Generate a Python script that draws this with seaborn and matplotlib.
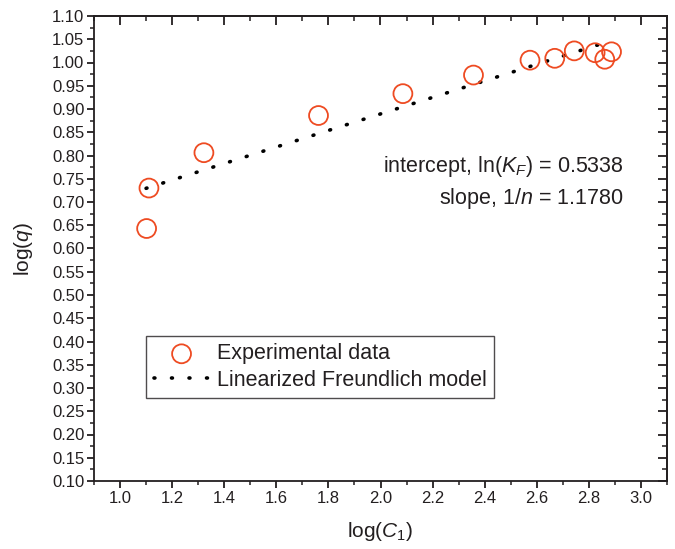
import numpy as np
import pandas as pd
import matplotlib
matplotlib.use("Agg")
import matplotlib.pyplot as plt
from matplotlib.ticker import MultipleLocator, FormatStrFormatter
import seaborn as sns

# ---- data ----
log_c = [1.102, 1.111, 1.322, 1.762, 2.086, 2.357, 2.574, 2.669, 2.744, 2.824, 2.861, 2.887]
log_q = [0.643, 0.730, 0.806, 0.886, 0.933, 0.973, 1.005, 1.009, 1.025, 1.021, 1.007, 1.023]
model_x = [1.100, 2.860]
model_y = [0.7294, 1.0423]
annot_lines = [r"intercept, ln($\mathit{K}_{\mathit{F}}$) = 0.5338",
               r"slope, 1/$\mathit{n}$ = 1.1780"]
label_points = "Experimental data"
label_model = "Linearized Freundlich model"

sns.set_style("ticks")
plt.rcParams["font.family"] = ["Liberation Sans", "DejaVu Sans"]
plt.rcParams["mathtext.fontset"] = "custom"
plt.rcParams["mathtext.rm"] = "Liberation Sans"
plt.rcParams["mathtext.it"] = "Liberation Sans:italic"

ink = "#231F20"
orange = "#EE4B22"

fig = plt.figure(figsize=(6.75, 5.49), dpi=100)
ax = fig.add_axes([94/675, 1-481/549, 573/675, 465/549])

df_pts = pd.DataFrame({"x": log_c, "y": log_q})
df_line = pd.DataFrame({"x": model_x, "y": model_y})

sns.scatterplot(data=df_pts, x="x", y="y", ax=ax, marker="o", s=185,
                facecolors="none", edgecolor=orange, linewidth=1.3,
                label=label_points, zorder=3)
sns.lineplot(data=df_line, x="x", y="y", ax=ax, color="black", lw=2.6,
             linestyle=(0, (0.25, 4.6)), label=label_model, zorder=2)
for ln in ax.lines:
    ln.set_dash_capstyle("round")

ax.set_xlim(0.9, 3.1)
ax.set_ylim(0.10, 1.10)
ax.xaxis.set_major_locator(MultipleLocator(0.2))
ax.xaxis.set_minor_locator(MultipleLocator(0.1))
ax.yaxis.set_major_locator(MultipleLocator(0.05))
ax.yaxis.set_minor_locator(MultipleLocator(0.025))
ax.xaxis.set_major_formatter(FormatStrFormatter("%.1f"))
ax.yaxis.set_major_formatter(FormatStrFormatter("%.2f"))

for sp in ax.spines.values():
    sp.set_visible(True)
    sp.set_color(ink)
    sp.set_linewidth(1.3)

ax.tick_params(which="major", direction="out", length=5, width=1.3, color=ink,
               labelsize=12, labelcolor=ink, pad=2)
ax.tick_params(which="minor", direction="out", length=3, width=1.1, color=ink)

# inward ticks on top and right
sx = ax.secondary_xaxis("top")
sx.xaxis.set_major_locator(MultipleLocator(0.2))
sx.xaxis.set_minor_locator(MultipleLocator(0.1))
sx.tick_params(which="major", direction="in", length=6.5, width=1.3, color=ink, labeltop=False)
sx.tick_params(which="minor", direction="in", length=3.5, width=1.1, color=ink)
sx.spines["top"].set_linewidth(1.3)
sx.spines["top"].set_color(ink)
sy = ax.secondary_yaxis("right")
sy.yaxis.set_major_locator(MultipleLocator(0.05))
sy.yaxis.set_minor_locator(MultipleLocator(0.025))
sy.tick_params(which="major", direction="in", length=6.5, width=1.3, color=ink, labelright=False)
sy.tick_params(which="minor", direction="in", length=3.5, width=1.1, color=ink)
sy.spines["right"].set_linewidth(1.3)
sy.spines["right"].set_color(ink)

ax.set_xlabel(r"log($\mathit{C}_{\mathit{1}}$)", fontsize=15, color=ink, labelpad=10)
ax.set_ylabel(r"log($\mathit{q}$)", fontsize=15, color=ink, labelpad=12)

ax.text(0.925, 0.676, annot_lines[0], transform=ax.transAxes, ha="right", va="center",
        fontsize=15.5, color=ink)
ax.text(0.925, 0.607, annot_lines[1], transform=ax.transAxes, ha="right", va="center",
        fontsize=15.5, color=ink)

leg = ax.legend(loc="upper left", bbox_to_anchor=(0.0908, 0.312), borderaxespad=0,
                fontsize=15.5, frameon=True, fancybox=False, handlelength=2.6,
                handletextpad=0.35, borderpad=0.35, labelspacing=0.25)
leg.get_frame().set_edgecolor(ink)
leg.get_frame().set_linewidth(1.0)
for t in leg.get_texts():
    t.set_color(ink)

fig.savefig("out.png", dpi=100)
